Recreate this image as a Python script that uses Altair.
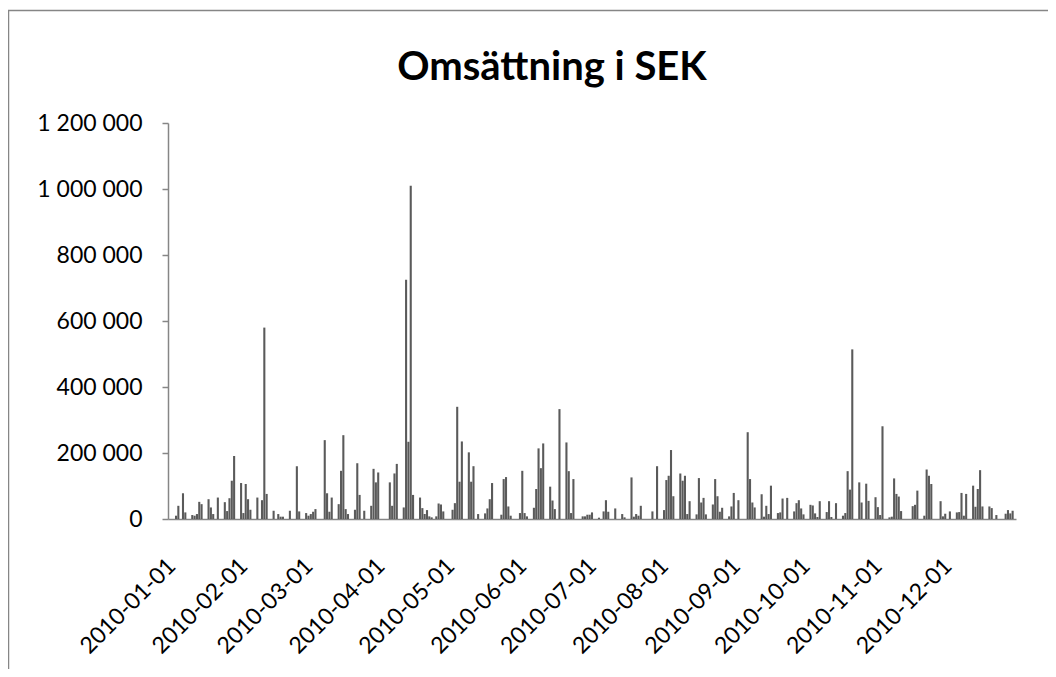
import altair as alt
import pandas as pd

# Day of year (0 = 2010-01-01) and daily turnover in SEK
day_of_year = [3, 4, 6, 7, 10, 11, 12, 13, 14, 17, 18, 19, 21, 24, 25, 26, 27, 28,
               31, 32, 33, 34, 35, 38, 40, 41, 42, 45, 47, 48, 49, 52, 55, 56, 59, 60,
               61, 62, 63, 67, 68, 69, 70, 73, 74, 75, 76, 77, 80, 81, 82, 84, 87, 88,
               89, 90, 95, 96, 97, 98, 101, 102, 103, 104, 105, 108, 109, 110, 111, 112,
               113, 115, 116, 117, 118, 122, 123, 124, 125, 126, 129, 130, 131, 133, 136,
               137, 138, 139, 143, 144, 145, 146, 147, 151, 152, 153, 154, 157, 158, 159,
               160, 161, 164, 165, 166, 168, 171, 172, 173, 174, 178, 179, 180, 181, 182,
               185, 187, 188, 189, 192, 195, 196, 199, 200, 201, 202, 203, 208, 210, 213,
               214, 215, 216, 217, 220, 221, 222, 223, 224, 227, 228, 229, 230, 231, 234,
               235, 236, 237, 238, 241, 242, 243, 245, 249, 250, 251, 252, 255, 256, 257,
               258, 259, 262, 263, 264, 266, 269, 270, 271, 272, 273, 276, 277, 278, 279,
               280, 283, 284, 285, 287, 290, 291, 292, 293, 294, 297, 298, 300, 301, 304,
               305, 306, 307, 310, 311, 312, 313, 314, 315, 320, 321, 322, 325, 326, 327,
               328, 332, 333, 334, 336, 339, 340, 341, 342, 343, 346, 347, 348, 349, 350,
               353, 354, 356, 360, 361, 362, 363]

turnover = [10000, 40000, 78000, 20000, 12000, 10000, 15000, 52000, 45000, 60000, 35000,
            15000, 65000, 51000, 24000, 63000, 116000, 191000, 109000, 18000, 106000,
            60000, 28000, 65000, 57000, 580000, 76000, 25000, 15000, 7000, 7000, 25000,
            160000, 23000, 18000, 10000, 15000, 22000, 30000, 239000, 78000, 22000, 65000,
            45000, 146000, 254000, 30000, 15000, 28000, 169000, 73000, 25000, 40000,
            152000, 111000, 141000, 111000, 40000, 138000, 167000, 35000, 725000, 234000,
            1010000, 73000, 65000, 33000, 15000, 27000, 8000, 5000, 8000, 47000, 44000,
            23000, 28000, 48000, 340000, 113000, 235000, 202000, 113000, 160000, 15000,
            17000, 32000, 60000, 109000, 13000, 121000, 127000, 38000, 10000, 18000,
            146000, 18000, 8000, 34000, 91000, 214000, 154000, 229000, 98000, 56000,
            30000, 333000, 232000, 145000, 18000, 121000, 8000, 8000, 13000, 13000, 20000,
            4000, 23000, 57000, 22000, 32000, 15000, 5000, 126000, 7000, 15000, 10000,
            40000, 23000, 160000, 27000, 118000, 131000, 209000, 69000, 138000, 116000,
            131000, 15000, 54000, 14000, 124000, 50000, 64000, 14000, 44000, 121000,
            69000, 22000, 34000, 8000, 38000, 79000, 57000, 263000, 121000, 50000, 35000,
            75000, 7000, 40000, 15000, 101000, 18000, 20000, 62000, 64000, 23000, 48000,
            57000, 32000, 14000, 43000, 41000, 17000, 6000, 54000, 21000, 54000, 6000,
            48000, 10000, 18000, 145000, 89000, 514000, 111000, 50000, 107000, 55000,
            66000, 36000, 12000, 281000, 5000, 7000, 123000, 76000, 68000, 24000, 39000,
            43000, 86000, 10000, 150000, 131000, 106000, 54000, 8000, 16000, 23000,
            20000, 21000, 79000, 10000, 76000, 101000, 37000, 91000, 148000, 38000,
            38000, 33000, 12000, 16000, 27000, 17000, 25000]

month_ticks = ["2010-01-01", "2010-02-01", "2010-03-01", "2010-04-01", "2010-05-01",
               "2010-06-01", "2010-07-01", "2010-08-01", "2010-09-01", "2010-10-01",
               "2010-11-01", "2010-12-01"]

y_ticks = [0, 200000, 400000, 600000, 800000, 1000000, 1200000]

title_text = "Omsättning i SEK"

# full daily calendar (category axis like Excel)
all_days = pd.date_range("2010-01-01", "2010-12-31", freq="D").strftime("%Y-%m-%d").tolist()
vals = [0] * len(all_days)
for d, v in zip(day_of_year, turnover):
    vals[d] = v
df = pd.DataFrame({"datum": all_days, "sek": vals})

W, H = 848, 396
FONT = "Lato"
GREY = "#868686"

bars = alt.Chart(df).mark_bar(color="#5a5a5a").encode(
    x=alt.X("datum:O", sort=all_days,
            scale=alt.Scale(domain=all_days, paddingInner=0.1, paddingOuter=0),
            axis=alt.Axis(values=month_ticks, title=None, labelAngle=-45, labelAlign="right",
                          labelBaseline="middle", ticks=False, domainColor=GREY,
                          domainWidth=1.5, labelFontSize=23, labelFont=FONT,
                          labelColor="#000000", labelPadding=43, labelOffset=3,
                          labelOverlap=False, labelBound=False, labelFlush=False)),
    y=alt.Y("sek:Q", scale=alt.Scale(domain=[0, 1200000], nice=False),
            axis=alt.Axis(values=y_ticks, title=None, grid=False, domainColor=GREY,
                          domainWidth=1.5, tickColor=GREY, tickSize=6, tickWidth=1.5,
                          labelFontSize=23, labelFont=FONT, labelColor="#000000",
                          labelPadding=20,
                          labelExpr="replace(replace(format(datum.value, ',d'), ',', ' '), ',', ' ')")),
)

border = alt.Chart(pd.DataFrame({"a": [0]})).mark_rect(
    fillOpacity=0, stroke=GREY, strokeWidth=1.5
).encode(
    x=alt.value(-159.5), x2=alt.value(W + 60),
    y=alt.value(-112.5), y2=alt.value(H + 250),
)

title = alt.Chart(pd.DataFrame({"t": [title_text]})).mark_text(
    font=FONT, fontSize=40, fontWeight="bold", color="#000000",
    align="center", baseline="alphabetic"
).encode(
    text="t:N", x=alt.value(384), y=alt.value(-43),
)

chart = alt.layer(border, bars, title).properties(
    width=W, height=H,
    autosize=alt.AutoSizeParams(type="none"),
    padding={"left": 160, "top": 115, "right": 32, "bottom": 150},
).configure_view(stroke=None)

chart.save("out.html", embed_options={"renderer": "svg", "actions": False})
